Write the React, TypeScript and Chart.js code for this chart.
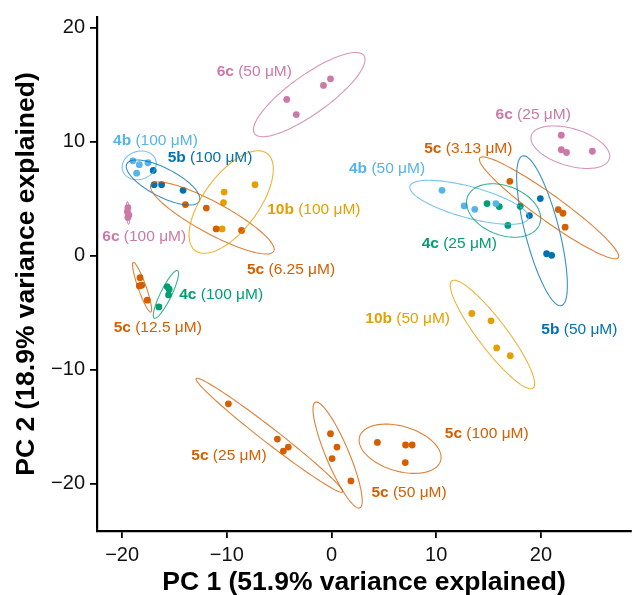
import React, { useEffect, useRef } from "react";
import { Chart, registerables } from "chart.js";

Chart.register(...registerables);

// ---- Data (PC1 / PC2 scores per treatment group) ----
const groupCompound = ["4b", "5b", "5c", "10b", "6c", "5c", "4c", "6c", "6c", "4b", "4c", "5b", "5c", "10b", "5c", "5c", "5c"];
const groupConc = ["100 μM", "100 μM", "6.25 μM", "100 μM", "100 μM", "12.5 μM", "100 μM", "50 μM", "25 μM", "50 μM", "25 μM", "50 μM", "3.13 μM", "50 μM", "25 μM", "50 μM", "100 μM"];

const pc1 = [
  [-18.98, -18.36, -17.53, -18.61], // 4b 100
  [-17.03, -16.94, -16.23, -14.18], // 5b 100
  [-13.96, -11.96, -11.02, -8.59], // 5c 6.25
  [-7.31, -10.26, -10.32, -10.45], // 10b 100
  [-19.45, -19.5, -19.35, -19.45], // 6c 100
  [-18.29, -18.36, -18.13, -17.6], // 5c 12.5
  [-15.7, -15.51, -15.57, -16.49], // 4c 100
  [-4.28, -3.37, -0.77, -0.1], // 6c 50
  [21.94, 21.94, 22.44, 24.91], // 6c 25
  [10.55, 12.67, 13.68, 15.7], // 4b 50
  [14.85, 16.02, 18.02, 16.84], // 4c 25
  [19.94, 18.9, 20.54, 21.02], // 5b 50
  [17.03, 21.65, 22.1, 22.31], // 5c 3.13
  [13.4, 15.23, 15.77, 17.07], // 10b 50
  [-9.85, -5.17, -4.13, -4.6], // 5c 25
  [-0.1, 0.52, 0.05, 1.85], // 5c 50
  [4.38, 7.07, 7.7, 7.04], // 5c 100
];
const pc2 = [
  [8.31, 7.97, 8.14, 7.23],
  [7.47, 6.22, 6.22, 5.72],
  [4.47, 4.17, 2.34, 2.2],
  [6.22, 5.57, 4.65, 2.34],
  [4.2, 3.85, 3.55, 3.35],
  [-1.94, -2.66, -2.6, -3.91],
  [-2.72, -2.95, -3.45, -4.5],
  [13.69, 12.36, 14.92, 15.5],
  [10.55, 9.28, 9.04, 9.15],
  [5.72, 4.35, 4.06, 4.56],
  [4.56, 4.3, 4.32, 2.64],
  [5.0, 3.51, 0.16, 0.02],
  [6.51, 4.03, 3.71, 2.49],
  [-5.08, -5.72, -8.1, -8.78],
  [-13.0, -16.09, -16.79, -17.14],
  [-15.62, -16.79, -17.8, -19.76],
  [-16.38, -16.61, -16.61, -18.15],
];

// label anchor (centre) in data units
const labelPC1 = [-16.82, -11.6, -3.87, -1.69, -17.89, -16.6, -10.54, -7.38, 19.26, 5.3, 12.2, 23.67, 13.06, 7.27, -9.8, 7.4, 14.82];
const labelPC2 = [10.09, 8.54, -1.21, 4.03, 1.62, -6.3, -3.39, 16.11, 12.33, 7.62, 1.07, -6.51, 9.36, -5.57, -17.51, -20.8, -15.62];

const xTicks = [-20, -10, 0, 10, 20];
const yTicks = [-20, -10, 0, 10, 20];

const compoundColors: Record<string, string> = {
  "4b": "#56B4E9",
  "5b": "#0072B2",
  "4c": "#009E73",
  "5c": "#D55E00",
  "6c": "#CC79A7",
  "10b": "#E69F00",
};

const FONT = '"Liberation Sans", Arial, Helvetica, sans-serif';
const ELLIPSE_K = 2.65;

function hexA(hex: string, a: number) {
  const n = parseInt(hex.slice(1), 16);
  return `rgba(${(n >> 16) & 255},${(n >> 8) & 255},${n & 255},${a})`;
}

const fmtTick = (v: any) => {
  const n = Number(v);
  return n < 0 ? "\u2212" + Math.abs(n) : String(n);
};

const ellipsePlugin = {
  id: "groupEllipses",
  afterDatasetsDraw(chart: any) {
    const { ctx } = chart;
    const xs = chart.scales.x;
    const ys = chart.scales.y;
    ctx.save();
    chart.data.datasets.forEach((ds: any) => {
      const pts = ds.data as { x: number; y: number }[];
      const n = pts.length;
      const mx = pts.reduce((s, p) => s + p.x, 0) / n;
      const my = pts.reduce((s, p) => s + p.y, 0) / n;
      let a = 0, b = 0, d = 0;
      pts.forEach((p) => {
        a += (p.x - mx) * (p.x - mx);
        b += (p.x - mx) * (p.y - my);
        d += (p.y - my) * (p.y - my);
      });
      a /= n - 1; b /= n - 1; d /= n - 1;
      const tr = a + d;
      const det = a * d - b * b;
      const disc = Math.sqrt(Math.max(0, (tr * tr) / 4 - det));
      const l1 = tr / 2 + disc;
      const l2 = Math.max(0, tr / 2 - disc);
      let th: number;
      if (Math.abs(b) > 1e-12) th = Math.atan2(l1 - a, b);
      else th = a >= d ? 0 : Math.PI / 2;
      const r1 = ELLIPSE_K * Math.sqrt(l1);
      const r2 = ELLIPSE_K * Math.sqrt(l2);
      ctx.beginPath();
      const N = 120;
      for (let i = 0; i <= N; i++) {
        const t = (i / N) * Math.PI * 2;
        const ex = mx + r1 * Math.cos(t) * Math.cos(th) - r2 * Math.sin(t) * Math.sin(th);
        const ey = my + r1 * Math.cos(t) * Math.sin(th) + r2 * Math.sin(t) * Math.cos(th);
        const px = xs.getPixelForValue(ex);
        const py = ys.getPixelForValue(ey);
        if (i === 0) ctx.moveTo(px, py);
        else ctx.lineTo(px, py);
      }
      ctx.closePath();
      ctx.strokeStyle = hexA(ds.baseColor, 0.78);
      ctx.lineWidth = 1.1;
      ctx.stroke();
    });
    ctx.restore();
  },
};

const labelPlugin = {
  id: "groupLabels",
  afterDraw(chart: any) {
    const { ctx } = chart;
    const xs = chart.scales.x;
    const ys = chart.scales.y;
    ctx.save();
    ctx.textBaseline = "middle";
    ctx.textAlign = "left";
    const size = 15.5;
    groupCompound.forEach((c, i) => {
      const bold = c;
      const rest = " (" + groupConc[i] + ")";
      ctx.font = `bold ${size}px ${FONT}`;
      const wb = ctx.measureText(bold).width;
      ctx.font = `${size}px ${FONT}`;
      const wr = ctx.measureText(rest).width;
      const cx = xs.getPixelForValue(labelPC1[i]);
      const cy = ys.getPixelForValue(labelPC2[i]);
      const x0 = cx - (wb + wr) / 2;
      ctx.fillStyle = compoundColors[c];
      ctx.font = `bold ${size}px ${FONT}`;
      ctx.fillText(bold, x0, cy);
      ctx.font = `${size}px ${FONT}`;
      ctx.fillText(rest, x0 + wb, cy);
    });
    ctx.restore();
  },
};

export default function App() {
  const canvasRef = useRef<HTMLCanvasElement | null>(null);

  useEffect(() => {
    document.body.style.margin = "0";
    const canvas = canvasRef.current;
    if (!canvas) return;
    const datasets = groupCompound.map((c, i) => ({
      label: `${c} (${groupConc[i]})`,
      data: pc1[i].map((v, j) => ({ x: v, y: pc2[i][j] })),
      backgroundColor: compoundColors[c],
      borderWidth: 0,
      pointRadius: 3.4,
      baseColor: compoundColors[c],
    }));
    const chart = new Chart(canvas, {
      type: "scatter",
      data: { datasets: datasets as any },
      options: {
        animation: false,
        responsive: true,
        maintainAspectRatio: false,
        layout: { padding: { top: 15, right: 2, left: 0, bottom: 0 } },
        plugins: { legend: { display: false }, tooltip: { enabled: false } },
        scales: {
          x: {
            type: "linear",
            min: -22.4,
            max: 28.6,
            afterBuildTicks: (s: any) => {
              s.ticks = xTicks.map((v) => ({ value: v }));
            },
            afterFit: (s: any) => {
              s.height = 64;
            },
            grid: { display: true, drawOnChartArea: false, drawTicks: true, tickLength: 7, color: "#000", lineWidth: 1.8 },
            border: { display: true, color: "#000", width: 2.2 },
            ticks: { color: "#111", font: { family: FONT, size: 20 }, padding: 5, maxRotation: 0, autoSkip: false, callback: fmtTick },
            title: {
              display: true,
              text: "PC 1 (51.9% variance explained)",
              color: "#000",
              font: { family: FONT, size: 26.5, weight: "bold" },
              padding: { top: 0, bottom: -4 },
            },
          },
          y: {
            type: "linear",
            min: -24.15,
            max: 20.92,
            afterBuildTicks: (s: any) => {
              s.ticks = yTicks.map((v) => ({ value: v }));
            },
            afterFit: (s: any) => {
              s.width = 97;
            },
            grid: { display: true, drawOnChartArea: false, drawTicks: true, tickLength: 7, color: "#000", lineWidth: 1.8 },
            border: { display: true, color: "#000", width: 2.2 },
            ticks: { color: "#111", font: { family: FONT, size: 20 }, padding: 5, autoSkip: false, callback: fmtTick },
            title: {
              display: true,
              text: "PC 2 (18.9% variance explained)",
              color: "#000",
              font: { family: FONT, size: 26.5, weight: "bold" },
              padding: { top: 11, bottom: 0 },
            },
          },
        },
      },
      plugins: [ellipsePlugin, labelPlugin],
    });
    return () => chart.destroy();
  }, []);

  return (
    <div style={{ width: 635, height: 595, position: "relative" }}>
      <canvas ref={canvasRef} />
    </div>
  );
}
